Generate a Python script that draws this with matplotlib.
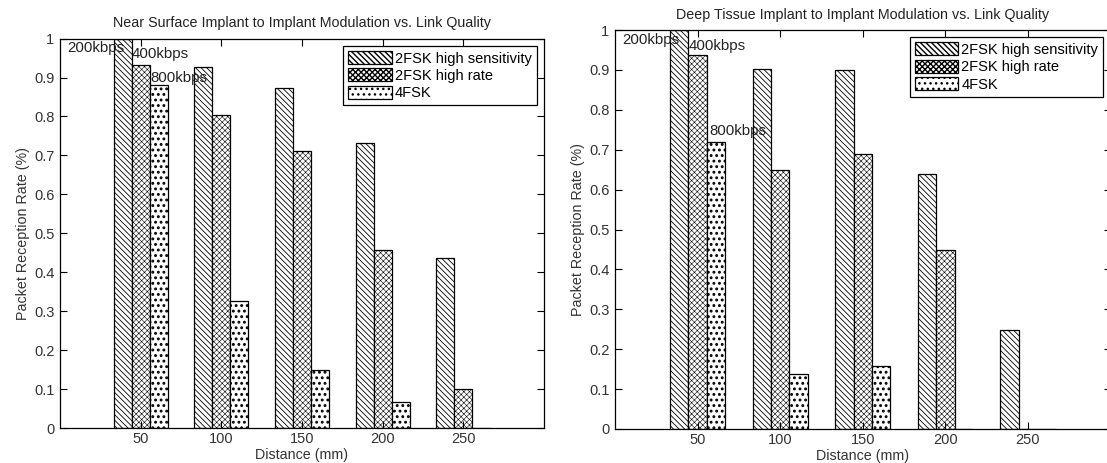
import numpy as np
import matplotlib
matplotlib.use("Agg")
import matplotlib.pyplot as plt

plt.rcParams['font.family'] = ['Liberation Sans', 'DejaVu Sans']

distances = [50, 100, 150, 200, 250]
series_names = ['2FSK high sensitivity', '2FSK high rate', '4FSK']

# Near surface
near_hs = [1.0, 0.927, 0.873, 0.733, 0.436]
near_hr = [0.933, 0.803, 0.712, 0.456, 0.099]
near_4fsk = [0.880, 0.325, 0.148, 0.068, 0.0]

# Deep tissue
deep_hs = [1.0, 0.903, 0.900, 0.638, 0.248]
deep_hr = [0.938, 0.650, 0.688, 0.448, 0.0]
deep_4fsk = [0.720, 0.137, 0.157, 0.0, 0.0]

rate_labels = ['200kbps', '400kbps', '800kbps']
near_label_pos = [(4.5, 0.975), (44.4, 0.96), (56.2, 0.898)]
deep_label_pos = [(4.2, 0.974), (44.7, 0.961), (57.0, 0.746)]

yticks = np.round(np.arange(0, 1.01, 0.1), 1)
ytick_labels = ['0'] + ['%.1f' % v for v in yticks[1:-1]] + ['1']

hatches = ['\\' * 6, 'x' * 6, '...']
hatch_lw = [0.6, 0.4, 1.3]

W, H = 1107, 463
fig = plt.figure(figsize=(W / 100, H / 100), dpi=100)


def draw_panel(rect, title, series, label_pos):
    ax = fig.add_axes(rect)
    x = np.array(distances, dtype=float)
    bw = 50 * (3 / 4.5) / 3
    for i, vals in enumerate(series):
        with plt.rc_context({'hatch.linewidth': hatch_lw[i]}):
            ax.bar(x + (i - 1) * bw, vals, width=bw, color='white',
                   edgecolor='black', linewidth=0.9, hatch=hatches[i],
                   label=series_names[i])
    for txt, (tx, ty) in zip(rate_labels, label_pos):
        ax.text(tx, ty, txt, fontsize=10.8, ha='left', va='center', color='#222222')
    ax.set_xlim(0, 300)
    ax.set_ylim(0, 1)
    ax.set_xticks(distances)
    ax.set_yticks(yticks)
    ax.set_yticklabels(ytick_labels)
    ax.tick_params(axis='y', pad=4)
    ax.tick_params(axis='x', pad=3)
    ax.tick_params(direction='in', top=True, right=True, length=5,
                   labelsize=10.5, colors='black', labelcolor='#333333')
    for s in ax.spines.values():
        s.set_linewidth(0.9)
    ax.set_title(title, fontsize=10.3, color='#222222', pad=8)
    ax.set_xlabel('Distance (mm)', fontsize=10.3, color='#333333', labelpad=1)
    ax.set_ylabel('Packet Reception Rate (%)', fontsize=10.3, color='#333333', labelpad=3)
    leg = ax.legend(loc='upper right', fancybox=False, edgecolor='black',
                    fontsize=10.5, handlelength=3.0, handleheight=1.0,
                    handletextpad=0.2, borderpad=0.35, labelspacing=0.2,
                    borderaxespad=0.5, framealpha=1)
    leg.get_frame().set_linewidth(0.9)
    return ax


draw_panel([60 / W, 1 - 428 / H, (544 - 60) / W, (428 - 38.6) / H],
           'Near Surface Implant to Implant Modulation vs. Link Quality',
           [near_hs, near_hr, near_4fsk], near_label_pos)
draw_panel([615 / W, 1 - 429 / H, (1110.6 - 615) / W, (429 - 30) / H],
           'Deep Tissue Implant to Implant Modulation vs. Link Quality',
           [deep_hs, deep_hr, deep_4fsk], deep_label_pos)

fig.savefig('out.png', dpi=100)
